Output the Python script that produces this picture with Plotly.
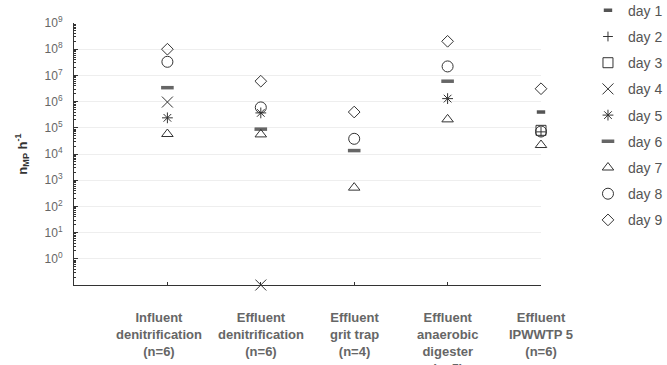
import plotly.graph_objects as go

# Sampling points along the treatment line
categories = [
    "Influent<br>denitrification<br>(n=6)",
    "Effluent<br>denitrification<br>(n=6)",
    "Effluent<br>grit trap<br>(n=4)",
    "Effluent<br>anaerobic<br>digester<br>(n=5)",
    "Effluent<br>IPWWTP 5<br>(n=6)",
]
cat_pos = [1, 2, 3, 4, 5]

# Microplastic load (particles per hour) per sampling day; None = not sampled
day1 = [None, None, None, None, 4.0e5]
day2 = [None, None, None, None, 7.0e4]
day3 = [None, None, None, None, 8.0e4]
day4 = [9.6e5, 0.1, None, None, None]
day5 = [2.4e5, 3.7e5, None, 1.3e6, None]
day6 = [3.4e6, 8.9e4, 1.35e4, 6.0e6, None]
day7 = [5.8e4, 5.6e4, 520, 2.1e5, 2.2e4]
day8 = [3.3e7, 6.0e5, 3.8e4, 2.2e7, 7.2e4]
day9 = [1.0e8, 6.0e6, 4.0e5, 2.0e8, 3.1e6]

day_names = ["day 1", "day 2", "day 3", "day 4", "day 5",
             "day 6", "day 7", "day 8", "day 9"]
day_values = [day1, day2, day3, day4, day5, day6, day7, day8, day9]

# y-axis decades
decades = list(range(0, 10))

INK = "#333333"
styles = [
    dict(symbol="line-ew", size=6, line=dict(color="#555555", width=3.5)),
    dict(symbol="cross-thin-open", size=7, line=dict(color=INK, width=1)),
    dict(symbol="square-open", size=10, line=dict(color=INK, width=1)),
    dict(symbol="x-thin-open", size=11, line=dict(color=INK, width=1)),
    dict(symbol="asterisk-open", size=9, line=dict(color=INK, width=1)),
    dict(symbol="line-ew", size=9, line=dict(color="#666666", width=3.5)),
    dict(symbol="triangle-up-open", size=10, line=dict(color=INK, width=1)),
    dict(symbol="circle-open", size=11, line=dict(color=INK, width=1)),
    dict(symbol="diamond-open", size=9, line=dict(color=INK, width=1)),
]

fig = go.Figure()
for name, vals, st in zip(day_names, day_values, styles):
    xs = [c for c, v in zip(cat_pos, vals) if v is not None]
    ys = [v for v in vals if v is not None]
    fig.add_trace(go.Scatter(
        x=xs, y=ys, mode="markers", name=name, legendgroup=name,
        marker=dict(color=INK, **st), cliponaxis=False,
    ))

# minor log ticks between decades
minor_vals = [m * 10 ** k for k in range(-1, 9) for m in range(2, 10)]

fig.update_yaxes(
    type="log", range=[-1, 9],
    tickmode="array",
    tickvals=[10 ** d for d in decades],
    ticktext=["10<sup>%d</sup>" % d for d in decades],
    ticks="inside", ticklen=4, tickcolor=INK,
    ticklabelstandoff=8,
    tickfont=dict(family="Liberation Sans, Arial", size=12, color="#666666"),
    minor=dict(tickmode="array", tickvals=minor_vals, ticks="inside",
               ticklen=2, tickcolor=INK, showgrid=False),
    showline=True, linecolor=INK, linewidth=1,
    showgrid=True, gridcolor="#eeeeee", gridwidth=1,
    zeroline=False,
    title=dict(text="<b>n<sub>MP</sub> h<sup>-1</sup></b>",
               font=dict(family="Liberation Sans, Arial", size=13, color=INK),
               standoff=14),
)
fig.update_xaxes(
    range=[0, 5], tickmode="array", tickvals=cat_pos,
    showticklabels=False,
    ticks="inside", ticklen=3, tickcolor=INK,
    showline=True, linecolor=INK, linewidth=1,
    showgrid=False, zeroline=False,
)

# category labels beneath the axis
label_shift = [-8, 0, 0, 0, 0]
for c, lab, sh in zip(cat_pos, categories, label_shift):
    fig.add_annotation(
        x=c, xref="x", y=0, yref="paper", yanchor="top", xanchor="center",
        yshift=-23, xshift=sh, showarrow=False, align="center",
        text="<b>%s</b>" % lab,
        font=dict(family="Liberation Sans, Arial", size=13, color="#666666"),
    )

fig.update_layout(
    width=667, height=365,
    margin=dict(l=74, r=126, t=23, b=80, autoexpand=False),
    paper_bgcolor="white", plot_bgcolor="white",
    font=dict(family="Liberation Sans, Arial", color="#555555"),
    showlegend=True,
    legend=dict(
        x=1.1006, xanchor="left", y=1.108, yanchor="top",
        font=dict(family="Liberation Sans, Arial", size=14, color="#555555"),
        tracegroupgap=5, itemwidth=30, bgcolor="rgba(0,0,0,0)",
        maxheight=360,
    ),
)

fig.write_html("out.html")
